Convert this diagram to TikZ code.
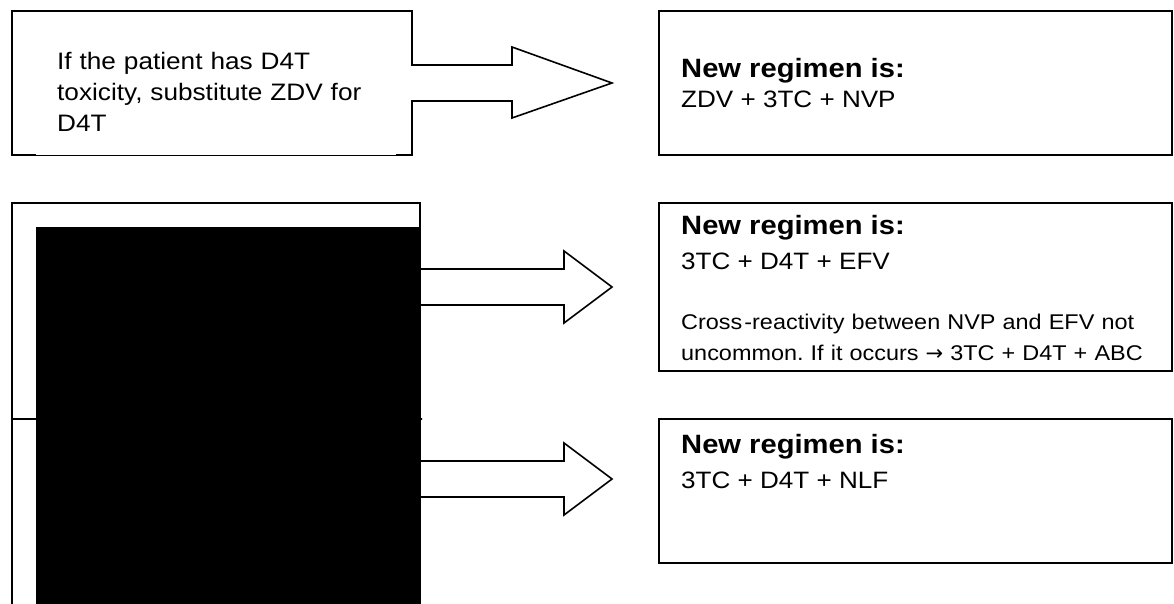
\documentclass[tikz,border=0pt]{standalone}
\usepackage{fontspec}
\setmainfont{Liberation Sans}[FakeStretch=1.1]
\newfontfamily\arrowfont{DejaVu Sans}
\frenchspacing
\begin{document}
\begin{tikzpicture}[x=1pt,y=-1pt,
  outline/.style={draw=black, line width=1.6pt, line join=miter, fill=white},
  thinedge/.style={draw=black, line width=1.1pt},
  box/.style={draw=black, line width=1.6pt, fill=white, anchor=north west, inner sep=0pt, outer sep=0pt},
  headtxt/.style={anchor=base west, inner sep=0pt, font=\fontsize{26.5}{30}\selectfont\bfseries},
  bodytxt/.style={anchor=base west, inner sep=0pt, font=\fontsize{23.7}{28}\selectfont},
  notetxt/.style={anchor=base west, inner sep=0pt, text width=500pt, align=left, font=\fontsize{21.3}{31}\selectfont},
  lefttxt/.style={anchor=base west, inner sep=0pt, text width=340pt, align=left, font=\fontsize{23.8}{31}\selectfont}]
\useasboundingbox (0,0) rectangle (1174,604);
\clip (0,0) rectangle (1174,604);
\fill[white] (0,0) rectangle (1174,604);

% row 1: condition box with attached block arrow
\fill[white] (12,11) rectangle (412,155);
\draw[outline] (12,155) -- (12,11) -- (412,11) -- (412,65) -- (512,65) -- (512,47) -- (612,83)
  -- (512,118) -- (512,101) -- (412,101) -- (412,155);
\draw[outline, fill=none] (11.2,155) -- (36,155);
\draw[thinedge] (36,155.3) -- (396,155.3);
\draw[outline, fill=none] (396,155) -- (412.8,155);
\node[lefttxt] (A) at (57,70) {If the patient has D4T\\toxicity, substitute ZDV for\\D4T};

\node[box, minimum width=513pt, minimum height=144pt] (B) at (659,11) {};
\node[headtxt] (Bh) at (681,78) {New regimen is:};
\node[bodytxt] (Bb) at (681,108) {ZDV + 3TC + NVP};

% rows 2 and 3: condition boxes with block arrows
\draw[outline] (12,419) -- (12,203) -- (420,203) -- (420,269) -- (564,269) -- (564,251)
  -- (612,287) -- (564,323) -- (564,305) -- (420,305) -- (420,419) -- cycle;
\draw[outline] (12,640) -- (12,419) -- (422,419) -- (420,419) -- (420,461) -- (564,461) -- (564,443)
  -- (612,479) -- (564,515) -- (564,497) -- (420,497) -- (420,640) -- cycle;
\fill[black] (36,227) rectangle (421,620);

\node[box, minimum width=513pt, minimum height=168pt] (E) at (659,203) {};
\node[headtxt] (Eh) at (681,234) {New regimen is:};
\node[bodytxt] (Eb) at (681,269) {3TC + D4T + EFV};
\node[notetxt] (En) at (681,329) {Cross\kern2pt-reactivity between NVP and EFV not\\uncommon. If it occurs\kern7pt{\arrowfont\fontsize{21}{31}\selectfont\symbol{"2192}}\kern7pt3TC + D4T + ABC};

\node[box, minimum width=513pt, minimum height=144pt] (F) at (659,419) {};
\node[headtxt] (Fh) at (681,453) {New regimen is:};
\node[bodytxt] (Fb) at (681,488) {3TC + D4T + NLF};
\end{tikzpicture}
\end{document}
